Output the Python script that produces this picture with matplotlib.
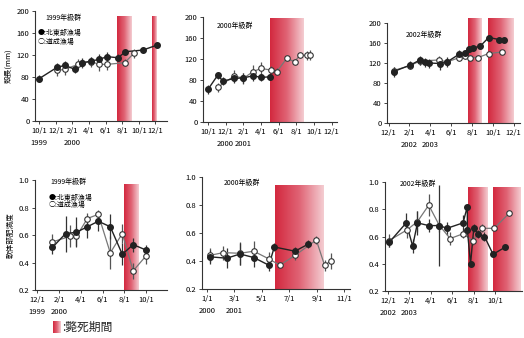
import matplotlib.pyplot as plt
import numpy as np
from matplotlib.colors import LinearSegmentedColormap

plt.rcParams['font.family'] = ['Noto Sans CJK JP', 'DejaVu Sans']

# ---- shell length panels (top row) ----
tl_fx = [0, 2.2, 3.1, 4.3, 5.2, 6.3, 7.2, 8.2, 9.5, 10.4, 12.5, 14.2]
tl_fy = [77, 98, 101, 94, 106, 109, 112, 117, 115, 126, 129, 138]
tl_fe = [7, 8, 8, 7, 8, 8, 9, 9, 6, 5, 5, 6]
tl_ox = [2.2, 3.1, 4.7, 5.2, 6.3, 7.2, 8.2, 10.3, 11.4]
tl_oy = [92, 94, 103, 105, 108, 103, 103, 106, 123]
tl_oe = [10, 10, 9, 8, 9, 12, 10, 6, 8]

tm_fx = [0, 1.1, 1.7, 3.0, 4.0, 5.1, 6.0, 7.0]
tm_fy = [62, 89, 78, 83, 84, 88, 85, 86]
tm_fe = [9, 7, 7, 9, 9, 9, 7, 6]
tm_ox = [1.1, 3.0, 4.0, 5.1, 6.0, 7.1, 7.8, 8.9, 9.8, 10.4, 11.2, 11.6]
tm_oy = [66, 88, 83, 96, 102, 99, 96, 121, 115, 127, 127, 128]
tm_oe = [8, 11, 10, 12, 12, 8, 6, 5, 5, 6, 9, 10]

tr_fx = [0.5, 2.1, 3.0, 3.5, 3.9, 4.9, 5.6, 6.8, 7.3, 7.7, 8.1, 8.8, 9.6, 10.6, 11.1]
tr_fy = [103, 116, 126, 122, 120, 119, 122, 138, 140, 149, 150, 154, 171, 167, 166]
tr_fe = [10, 8, 9, 9, 9, 12, 10, 8, 6, 6, 5, 5, 4, 4, 4]
tr_ox = [0.5, 2.1, 3.0, 4.8, 5.6, 6.8, 7.3, 7.8, 8.6, 9.6, 10.9]
tr_oy = [105, 115, 124, 126, 122, 131, 134, 131, 131, 139, 142]
tr_oe = [8, 7, 8, 9, 8, 7, 6, 5, 5, 4, 4]

# ---- soft body condition panels (bottom row) ----
bl_fx = [1.4, 2.6, 3.6, 4.6, 5.6, 6.7, 7.8, 8.8, 10.0]
bl_fy = [0.51, 0.61, 0.62, 0.66, 0.70, 0.66, 0.46, 0.53, 0.49]
bl_fe = [0.05, 0.13, 0.11, 0.08, 0.07, 0.09, 0.08, 0.05, 0.04]
bl_ox = [1.4, 3.0, 3.6, 4.6, 5.6, 6.7, 7.8, 8.8, 10.0]
bl_oy = [0.55, 0.59, 0.59, 0.72, 0.75, 0.47, 0.61, 0.34, 0.45]
bl_oe = [0.06, 0.08, 0.07, 0.04, 0.03, 0.12, 0.07, 0.06, 0.06]

bm_fx = [0.2, 1.45, 2.4, 3.4, 4.5, 4.9, 6.4, 7.35]
bm_fy = [0.43, 0.42, 0.45, 0.425, 0.37, 0.50, 0.47, 0.52]
bm_fe = [0.05, 0.07, 0.08, 0.07, 0.04, 0.03, 0.03, 0.03]
bm_ox = [0.2, 1.2, 2.4, 3.4, 4.5, 5.3, 6.4, 7.95, 8.55, 9.0]
bm_oy = [0.44, 0.46, 0.455, 0.47, 0.415, 0.37, 0.44, 0.55, 0.37, 0.40]
bm_oe = [0.05, 0.05, 0.08, 0.07, 0.05, 0.02, 0.03, 0.03, 0.04, 0.06]

br_fx = [0.1, 1.7, 2.3, 2.75, 3.8, 4.8, 5.5, 7.0, 7.4, 7.4, 7.7, 8.0, 8.4, 9.0, 9.8, 10.9]
br_fy = [0.556, 0.70, 0.53, 0.70, 0.68, 0.68, 0.66, 0.70, 0.82, 0.65, 0.40, 0.66, 0.62, 0.60, 0.47, 0.52]
br_fe = [0.03, 0.07, 0.05, 0.09, 0.05, 0.30, 0.05, 0.06, 0.02, 0.03, 0.02, 0.03, 0.03, 0.03, 0.02, 0.02]
br_ox = [0.1, 1.8, 2.75, 3.8, 4.8, 5.8, 7.0, 7.9, 8.8, 9.9, 11.3]
br_oy = [0.57, 0.65, 0.71, 0.83, 0.68, 0.585, 0.62, 0.57, 0.66, 0.66, 0.77]
br_oe = [0.05, 0.06, 0.08, 0.08, 0.05, 0.05, 0.03, 0.03, 0.03, 0.02, 0.02]

# mortality periods (months from first tick)
tl_bands = [(9.4, 11.1), (13.6, 14.2)]
tm_bands = [(7.0, 10.8)]
tr_bands = [(7.6, 8.9), (9.5, 11.9)]
bl_bands = [(8.0, 9.35)]
bm_bands = [(4.94, 8.5)]
br_bands = [(7.5, 9.3), (9.75, 12.3)]

tl_ticks = ['10/1\n1999', '12/1', '2/1\n2000', '4/1', '6/1', '8/1', '10/1', '12/1']
tm_ticks = ['10/1', '12/1\n2000', '2/1\n2001', '4/1', '6/1', '8/1', '10/1', '12/1']
tr_ticks = ['12/1', '2/1\n2002', '4/1\n2003', '6/1', '8/1', '10/1', '12/1']
bl_ticks = ['12/1\n1999', '2/1\n2000', '4/1', '6/1', '8/1', '10/1']
bm_ticks = ['1/1\n2000', '3/1\n2001', '5/1', '7/1', '9/1', '11/1']
br_ticks = ['12/1\n2002', '2/1\n2003', '4/1', '6/1', '8/1', '10/1']

band_cmap = LinearSegmentedColormap.from_list('band', ['#d3293f', '#e06475', '#f4ccd1'])
grad = np.linspace(0, 1, 64).reshape(1, -1)

W, H = 524, 338
fig = plt.figure(figsize=(W / 100, H / 100), dpi=100)


def px_axes(l, t, r, b):
    return fig.add_axes([l / W, 1 - b / H, (r - l) / W, (b - t) / H])


def panel(ax, fx, fy, fe, ox, oy, oe, bands, band_top, xlim, ylim, yticks, yfmt, ticks):
    for a, b in bands:
        ax.imshow(grad, cmap=band_cmap, extent=[a, b, ylim[0], band_top],
                  aspect='auto', zorder=1, clip_on=False)
    ax.errorbar(ox, oy, yerr=oe, fmt='none', ecolor='#555555', elinewidth=0.9, zorder=2)
    ax.errorbar(fx, fy, yerr=fe, fmt='none', ecolor='#333333', elinewidth=0.9, zorder=2)
    ax.plot(ox, oy, '-', color='#777777', lw=0.9, zorder=3)
    ax.plot(fx, fy, '-', color='#222222', lw=1.0, zorder=3)
    ax.plot(ox, oy, 'o', ms=4, mfc='white', mec='#333333', mew=0.8, zorder=4)
    ax.plot(fx, fy, 'o', ms=4, mfc='#222222', mec='#222222', zorder=5)
    ax.set_xlim(*xlim)
    ax.set_ylim(*ylim)
    ax.set_xticks(range(0, 2 * len(ticks), 2))
    ax.set_xticklabels(ticks, fontsize=5.5, linespacing=1.8)
    ax.set_yticks(yticks)
    ax.set_yticklabels([yfmt.format(v) for v in yticks], fontsize=5.5)
    ax.tick_params(length=2, width=0.7, color='#444444', pad=2)
    for s in ['top', 'right']:
        ax.spines[s].set_visible(False)
    for s in ['left', 'bottom']:
        ax.spines[s].set_linewidth(0.8)
        ax.spines[s].set_color('#333333')
    ax.set_facecolor('none')


top_y = [0, 40, 80, 120, 160, 200]
bot_y = [0.2, 0.4, 0.6, 0.8, 1.0]

ax1 = px_axes(35, 11, 167, 121)
panel(ax1, tl_fx, tl_fy, tl_fe, tl_ox, tl_oy, tl_oe, tl_bands, 190,
      (-0.5, 15.4), (0, 200), top_y, '{:d}', tl_ticks)
ax2 = px_axes(203, 17, 337, 122)
panel(ax2, tm_fx, tm_fy, tm_fe, tm_ox, tm_oy, tm_oe, tm_bands, 198,
      (-0.56, 14.6), (0, 200), top_y, '{:d}', tm_ticks)
ax3 = px_axes(387, 23, 520, 123)
panel(ax3, tr_fx, tr_fy, tr_fe, tr_ox, tr_oy, tr_oe, tr_bands, 210,
      (-0.15, 12.6), (0, 200), top_y, '{:d}', tr_ticks)
ax4 = px_axes(35, 180, 167, 290)
panel(ax4, bl_fx, bl_fy, bl_fe, bl_ox, bl_oy, bl_oe, bl_bands, 0.97,
      (-0.2, 11.9), (0.2, 1.0), bot_y, '{:.1f}', bl_ticks)
ax5 = px_axes(202, 177, 350, 289)
panel(ax5, bm_fx, bm_fy, bm_fe, bm_ox, bm_oy, bm_oe, bm_bands, 0.94,
      (-0.36, 10.4), (0.2, 1.0), bot_y, '{:.1f}', bm_ticks)
ax6 = px_axes(385, 182, 522, 291)
panel(ax6, br_fx, br_fy, br_fe, br_ox, br_oy, br_oe, br_bands, 0.96,
      (-0.28, 12.5), (0.2, 1.0), bot_y, '{:.1f}', br_ticks)

# cohort labels and legends
ax1.text(0.08, 0.94, '1999年級群', transform=ax1.transAxes, fontsize=5, va='center')
ax1.text(0.02, 0.80, '●:北東部漁場', transform=ax1.transAxes, fontsize=5, va='center')
ax1.text(0.02, 0.72, '○:道成漁場', transform=ax1.transAxes, fontsize=5, va='center')
ax2.text(0.10, 0.91, '2000年級群', transform=ax2.transAxes, fontsize=5, va='center')
ax3.text(0.14, 0.88, '2002年級群', transform=ax3.transAxes, fontsize=5, va='center')
ax4.text(0.12, 0.98, '1999年級群', transform=ax4.transAxes, fontsize=5, va='center')
ax4.text(0.10, 0.84, '●:北東部漁場', transform=ax4.transAxes, fontsize=5, va='center')
ax4.text(0.10, 0.77, '○:道成漁場', transform=ax4.transAxes, fontsize=5, va='center')
ax5.text(0.15, 0.95, '2000年級群', transform=ax5.transAxes, fontsize=5, va='center')
ax6.text(0.11, 0.98, '2002年級群', transform=ax6.transAxes, fontsize=5, va='center')

ax1.set_ylabel('殻長(mm)', fontsize=5.5, labelpad=3)
ax4.set_ylabel('軟体部肥満度', fontsize=5.5, labelpad=3)

# mortality period key
kax = fig.add_axes([53 / W, 1 - 333 / H, 8 / W, 12 / H])
kax.imshow(grad, cmap=band_cmap, aspect='auto')
kax.axis('off')
fig.text(62 / W, 1 - 327 / H, ':斃死期間', fontsize=8.5, va='center', color='#222222')

fig.savefig('out.png', dpi=100)
